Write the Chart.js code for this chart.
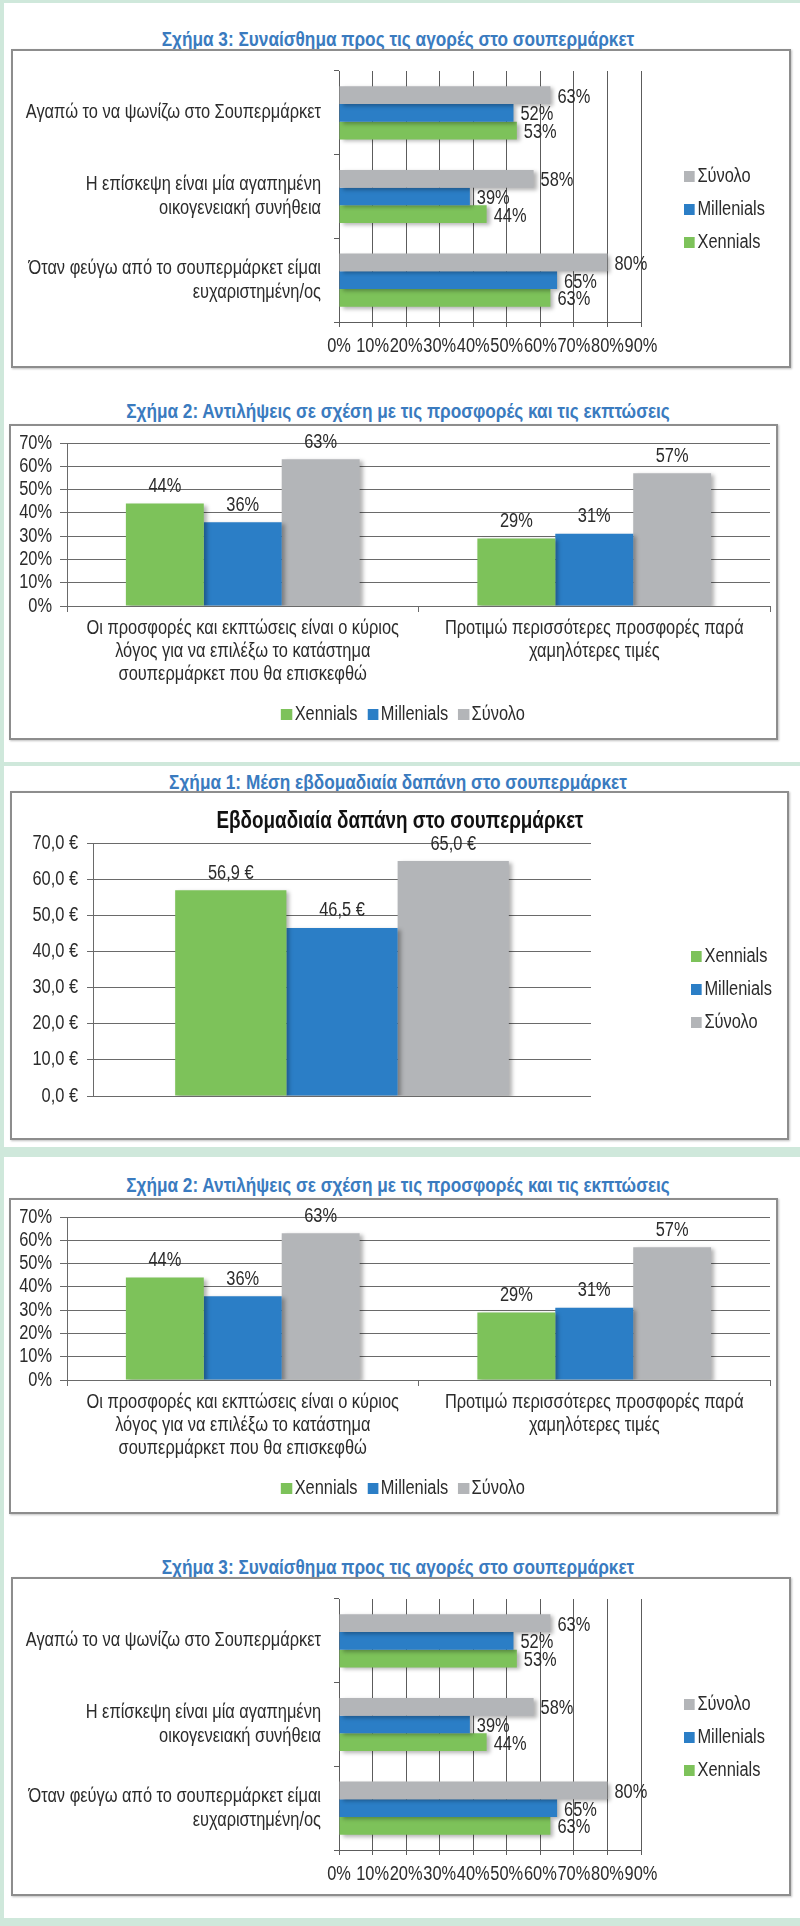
<!DOCTYPE html>
<html>
<head>
<meta charset="utf-8">
<script src="https://cdn.jsdelivr.net/npm/chart.js@4.4.1/dist/chart.umd.min.js"></script>
<style>
  body { margin: 0; width: 800px; height: 1926px; position: relative; overflow: hidden; background: #fff; }
  .band { position: absolute; background: #cfe8db; }
  .title { position: absolute; left: 0; width: 796px; text-align: center; color: #3a7bbf;
           font-weight: bold; line-height: 22px; transform-origin: 398px 50%; }
  .box { position: absolute; border: 2px solid #8d8d8d; background: #fff; box-shadow: 1px 1px 2px rgba(0,0,0,0.25); }
  .box canvas { position: absolute; left: 0; top: 0; }
  .inner-title { position: absolute; left: 0; width: 776px; text-align: center; color: #111; font-weight: bold;
                 line-height: 28px; transform-origin: 388px 50%; }
  .legend { position: absolute; color: #2b2b2b; line-height: 22px; }
  .legend .item { white-space: nowrap; }
  .legend .sw { display: inline-block; width: 11px; height: 11px; margin-right: 3px; vertical-align: 0px; }
  .legend.col { transform-origin: 0 0; }
  .legend.col .item { height: 33px; }
  .legend.row { left: 0; width: 784px; text-align: center; transform-origin: 392px 0; }
  .legend.row .item { display: inline-block; margin: 0 6px; }
</style>
</head>
<body>

<div class="band" style="left:0;top:0;width:800px;height:3px"></div>
<div class="band" style="left:0;top:0;width:4px;height:1926px"></div>
<div class="band" style="left:0;top:762px;width:800px;height:4px"></div>
<div class="band" style="left:0;top:1147px;width:800px;height:10px"></div>
<div class="band" style="left:0;top:1918px;width:800px;height:8px"></div>

<!-- panel 1 -->
<div class="title" style="top:28px">Σχήμα 3: Συναίσθημα προς τις αγορές στο σουπερμάρκετ</div>
<div class="box" style="left:11px;top:49px;width:776px;height:315px">
  <canvas id="feel1" width="776" height="315"></canvas>
  <div class="legend col" id="feelLegend1" style="left:671px;top:113px"></div>
</div>

<!-- panel 2 -->
<div class="title" style="top:400px">Σχήμα 2: Αντιλήψεις σε σχέση με τις προσφορές και τις εκπτώσεις</div>
<div class="box" style="left:9px;top:424px;width:765px;height:312px">
  <canvas id="offers1" width="765" height="312"></canvas>
  <div class="legend row" id="offersLegend1" style="top:276px"></div>
</div>

<!-- panel 3 -->
<div class="title" style="top:771px">Σχήμα 1: Μέση εβδομαδιαία δαπάνη στο σουπερμάρκετ</div>
<div class="box" style="left:10px;top:791px;width:775px;height:345px">
  <canvas id="spend" width="775" height="345"></canvas>
  <div class="inner-title" style="top:13px">Εβδομαδιαία δαπάνη στο σουπερμάρκετ</div>
  <div class="legend col" id="spendLegend" style="left:679px;top:151px"></div>
</div>

<!-- panel 4 -->
<div class="title" style="top:1174px">Σχήμα 2: Αντιλήψεις σε σχέση με τις προσφορές και τις εκπτώσεις</div>
<div class="box" style="left:9px;top:1198px;width:765px;height:312px">
  <canvas id="offers2" width="765" height="312"></canvas>
  <div class="legend row" id="offersLegend2" style="top:276px"></div>
</div>

<!-- panel 5 -->
<div class="title" style="top:1556px">Σχήμα 3: Συναίσθημα προς τις αγορές στο σουπερμάρκετ</div>
<div class="box" style="left:11px;top:1577px;width:776px;height:315px">
  <canvas id="feel2" width="776" height="315"></canvas>
  <div class="legend col" id="feelLegend2" style="left:671px;top:113px"></div>
</div>

<script>
// Series shared by all charts
const generations = ['Xennials', 'Millenials', 'Σύνολο'];
const seriesColors = ['#7dc25a', '#2b7ec6', '#b3b5b8'];

// Σχήμα 1: weekly spend (€)
const spendValues = [56.9, 46.5, 65.0];

// Σχήμα 2: offers and discounts (%)
const offerCategories = [
    ['Οι προσφορές και εκπτώσεις είναι ο κύριος', 'λόγος για να επιλέξω το κατάστημα', 'σουπερμάρκετ που θα επισκεφθώ'],
    ['Προτιμώ περισσότερες προσφορές παρά', 'χαμηλότερες τιμές']
];
const offerXennials = [44, 29];
const offerMillenials = [36, 31];
const offerTotal = [63, 57];

// Σχήμα 3: feelings about shopping (%)
const feelCategories = [
    ['Αγαπώ το να ψωνίζω στο Σουπερμάρκετ'],
    ['Η επίσκεψη είναι μία αγαπημένη', 'οικογενειακή συνήθεια'],
    ['Όταν φεύγω από το σουπερμάρκετ είμαι', 'ευχαριστημένη/ος']
];
const feelTotal = [63, 58, 80];
const feelMillenials = [52, 39, 65];
const feelXennials = [53, 44, 63];

// The original uses Arial Narrow. Use a real narrow face if there is one,
// otherwise squeeze an Arial-like face horizontally.
const probe = document.createElement('canvas').getContext('2d');
function hasFont(name) {
    const s = 'Αγαπώ abcdefXYZ 0123456789';
    probe.font = '40px monospace';
    const a = probe.measureText(s).width;
    probe.font = `40px "${name}", monospace`;
    return probe.measureText(s).width !== a;
}
const narrow = ['Liberation Sans Narrow', 'Arial Narrow'].find(hasFont);
const family = narrow || ['Liberation Sans', 'Arimo'].find(hasFont) || 'sans-serif';
const FONT = `"${family}", sans-serif`;
const squeeze = narrow ? 1 : 0.82;

// font size that makes a reference string as wide as in the original
function fitSize(text, width, weight, max) {
    probe.font = `${weight || 'normal'} 100px ${FONT}`;
    const size = 100 * width / (probe.measureText(text).width * squeeze);
    return Math.min(max, Math.round(size * 2) / 2);
}
const baseSize = fitSize('Αγαπώ το να ψωνίζω στο Σουπερμάρκετ', 297, 'normal', 20);
const titleSize = fitSize('Σχήμα 3: Συναίσθημα προς τις αγορές στο σουπερμάρκετ', 472, 'bold', 21);
const innerTitleSize = fitSize('Εβδομαδιαία δαπάνη στο σουπερμάρκετ', 366, 'bold', 24);
const legendSize = fitSize('Millenials', 67, 'normal', 21);

if (squeeze !== 1) {
    const proto = CanvasRenderingContext2D.prototype;
    const fillText = proto.fillText;
    const measureText = proto.measureText;
    proto.fillText = function (text, x, y) {
        this.save();
        this.translate(x, y);
        this.scale(squeeze, 1);
        fillText.call(this, text, 0, 0);
        this.restore();
    };
    proto.measureText = function (text) {
        const m = measureText.call(this, text);
        return {
            width: m.width * squeeze,
            actualBoundingBoxAscent: m.actualBoundingBoxAscent,
            actualBoundingBoxDescent: m.actualBoundingBoxDescent,
            actualBoundingBoxLeft: m.actualBoundingBoxLeft * squeeze,
            actualBoundingBoxRight: m.actualBoundingBoxRight * squeeze
        };
    };
}

document.body.style.fontFamily = FONT;
const squeezeCss = `scaleX(${squeeze})`;
document.querySelectorAll('.title').forEach(e => { e.style.fontSize = titleSize + 'px'; e.style.transform = squeezeCss; });
document.querySelectorAll('.inner-title').forEach(e => { e.style.fontSize = innerTitleSize + 'px'; e.style.transform = squeezeCss; });
document.querySelectorAll('.legend').forEach(e => { e.style.fontSize = legendSize + 'px'; e.style.transform = squeezeCss; });

Chart.defaults.font.family = FONT;
Chart.defaults.font.size = baseSize;
Chart.defaults.color = '#2b2b2b';
Chart.defaults.animation = false;
Chart.defaults.plugins.legend.display = false;
Chart.defaults.plugins.tooltip.enabled = false;

// soft drop shadow under the bars
const barShadow = {
    id: 'barShadow',
    beforeDatasetsDraw(chart) {
        const c = chart.ctx;
        c.save();
        c.shadowColor = 'rgba(0,0,0,0.3)';
        c.shadowBlur = 4;
        c.shadowOffsetX = 3;
        c.shadowOffsetY = 2;
    },
    afterDatasetsDraw(chart) {
        chart.ctx.restore();
    }
};

// value text next to / above each bar
const valueLabels = {
    id: 'valueLabels',
    afterDatasetsDraw(chart, args, opts) {
        const ctx = chart.ctx;
        const horizontal = chart.options.indexAxis === 'y';
        ctx.save();
        ctx.font = baseSize + 'px ' + FONT;
        ctx.fillStyle = '#2b2b2b';
        ctx.textBaseline = 'middle';
        chart.data.datasets.forEach((ds, i) => {
            chart.getDatasetMeta(i).data.forEach((bar, j) => {
                const text = opts.format(ds.data[j]);
                if (horizontal) {
                    ctx.textAlign = 'left';
                    ctx.fillText(text, bar.x + 7, bar.y + 2);
                } else {
                    ctx.textAlign = 'center';
                    ctx.fillText(text, bar.x, bar.y - 17);
                }
            });
        });
        ctx.restore();
    }
};

function buildLegend(id, names, colors) {
    const el = document.getElementById(id);
    names.forEach((name, i) => {
        const item = document.createElement('div');
        item.className = 'item';
        item.innerHTML = `<span class="sw" style="background:${colors[i]};width:${11 / squeeze}px"></span>${name}`;
        el.appendChild(item);
    });
}

const pct = v => v + '%';
const euro = v => v.toFixed(1).replace('.', ',') + ' €';

// keep the plot area where the original has it
const fixWidth = w => s => { s.width = w; s.paddingTop = 0; s.paddingBottom = 0; };
const fixHeight = h => s => { s.height = h; };

// Σχήμα 3 (horizontal bars, Σύνολο on top)
function feelChart(id) {
    new Chart(document.getElementById(id), {
        type: 'bar',
        data: {
            labels: feelCategories,
            datasets: [
                { label: generations[2], data: feelTotal, backgroundColor: seriesColors[2] },
                { label: generations[1], data: feelMillenials, backgroundColor: seriesColors[1] },
                { label: generations[0], data: feelXennials, backgroundColor: seriesColors[0] }
            ]
        },
        options: {
            indexAxis: 'y',
            responsive: false,
            datasets: { bar: { barPercentage: 1, categoryPercentage: 0.635 } },
            layout: { padding: { top: 20, right: 148, left: 0, bottom: 0 } },
            scales: {
                x: {
                    min: 0, max: 90,
                    ticks: { stepSize: 10, callback: pct, padding: 7, autoSkip: false, maxRotation: 0 },
                    grid: { color: '#5c5c5c', tickLength: 5 },
                    border: { color: '#5c5c5c' },
                    afterFit: fixHeight(44)
                },
                y: {
                    ticks: { padding: 13, font: { lineHeight: '24px' } },
                    grid: { drawOnChartArea: false, tickLength: 5, color: '#5c5c5c' },
                    border: { color: '#5c5c5c' },
                    afterFit: fixWidth(326)
                }
            },
            plugins: { valueLabels: { format: pct } }
        },
        plugins: [barShadow, valueLabels]
    });
}

// Σχήμα 2 (vertical grouped bars)
function offersChart(id) {
    new Chart(document.getElementById(id), {
        type: 'bar',
        data: {
            labels: offerCategories,
            datasets: [
                { label: generations[0], data: offerXennials, backgroundColor: seriesColors[0] },
                { label: generations[1], data: offerMillenials, backgroundColor: seriesColors[1] },
                { label: generations[2], data: offerTotal, backgroundColor: seriesColors[2] }
            ]
        },
        options: {
            responsive: false,
            datasets: { bar: { barPercentage: 1, categoryPercentage: 0.665 } },
            layout: { padding: { top: 17, right: 6, left: 0, bottom: 0 } },
            scales: {
                x: {
                    ticks: { padding: 5, maxRotation: 0, autoSkip: false, font: { lineHeight: '23px' } },
                    grid: { drawOnChartArea: false, tickLength: 6, color: '#6a6a6a' },
                    border: { color: '#6a6a6a' },
                    afterFit: fixHeight(132)
                },
                y: {
                    min: 0, max: 70,
                    ticks: { stepSize: 10, callback: pct, padding: 8, autoSkip: false },
                    grid: { color: '#6a6a6a', tickLength: 7 },
                    border: { color: '#6a6a6a' },
                    afterFit: fixWidth(56)
                }
            },
            plugins: { valueLabels: { format: pct } }
        },
        plugins: [barShadow, valueLabels]
    });
}

// Σχήμα 1 (single group, three bars)
new Chart(document.getElementById('spend'), {
    type: 'bar',
    data: {
        labels: [''],
        datasets: generations.map((g, i) => ({
            label: g, data: [spendValues[i]], backgroundColor: seriesColors[i]
        }))
    },
    options: {
        responsive: false,
        datasets: { bar: { barPercentage: 1, categoryPercentage: 0.67 } },
        layout: { padding: { top: 50, right: 196, left: 0, bottom: 42 } },
        scales: {
            x: { display: false },
            y: {
                min: 0, max: 70,
                ticks: { stepSize: 10, callback: euro, padding: 9, autoSkip: false },
                grid: { color: '#6a6a6a', tickLength: 6 },
                border: { color: '#6a6a6a' },
                afterFit: fixWidth(81)
            }
        },
        plugins: { valueLabels: { format: euro } }
    },
    plugins: [barShadow, valueLabels]
});

feelChart('feel1');
feelChart('feel2');
offersChart('offers1');
offersChart('offers2');

const feelOrder = [2, 1, 0];
buildLegend('feelLegend1', feelOrder.map(i => generations[i]), feelOrder.map(i => seriesColors[i]));
buildLegend('feelLegend2', feelOrder.map(i => generations[i]), feelOrder.map(i => seriesColors[i]));
buildLegend('offersLegend1', generations, seriesColors);
buildLegend('offersLegend2', generations, seriesColors);
buildLegend('spendLegend', generations, seriesColors);
</script>
</body>
</html>
